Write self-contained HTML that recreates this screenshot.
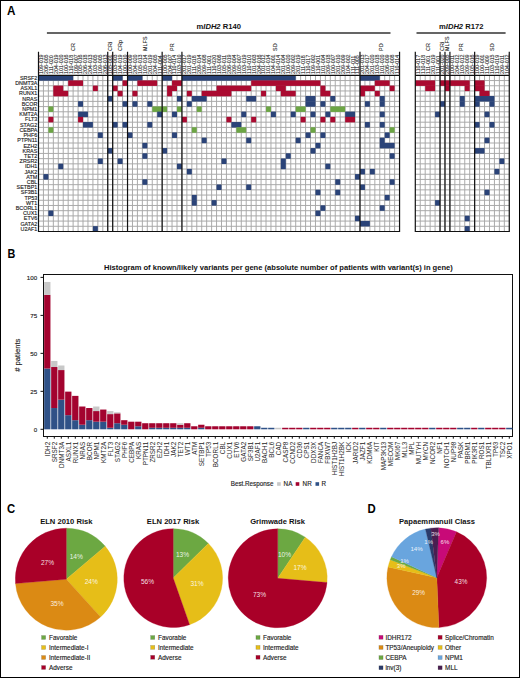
<!DOCTYPE html>
<html><head><meta charset="utf-8"><title>Figure</title>
<style>html,body{margin:0;padding:0;background:#fff;}svg{display:block;}
text{font-family:"Liberation Sans", sans-serif;}</style></head>
<body><svg width="520" height="678" viewBox="0 0 520 678" font-family='"Liberation Sans", sans-serif'>
<rect x="0.5" y="0.5" width="519" height="677" fill="#fff" stroke="#000" stroke-width="1"/>
<text transform="translate(7.00 14.80) scale(0.93 1)" font-size="12.6" font-weight="bold" fill="#000">A</text>
<text transform="translate(7.60 257.90) scale(0.86 1)" font-size="12.6" font-weight="bold" fill="#000">B</text>
<text transform="translate(7.00 512.90) scale(0.90 1)" font-size="12.6" font-weight="bold" fill="#000">C</text>
<text transform="translate(367.60 512.90) scale(0.90 1)" font-size="12.6" font-weight="bold" fill="#000">D</text>
<text x="218.7" y="28.6" font-size="7.6" font-weight="bold" text-anchor="middle" fill="#111">m<tspan font-style="italic">IDH2</tspan> R140</text>
<text x="461.2" y="28.6" font-size="7.6" font-weight="bold" text-anchor="middle" fill="#111">m<tspan font-style="italic">IDH2</tspan> R172</text>
<path d="M46.9 33H390.5 M416.5 33H505.6" stroke="#333" stroke-width="1.3"/>
<path d="M43.45 75.35V231.50M48.39 75.35V231.50M53.34 75.35V231.50M58.28 75.35V231.50M63.23 75.35V231.50M68.18 75.35V231.50M73.12 75.35V231.50M78.07 75.35V231.50M83.01 75.35V231.50M87.96 75.35V231.50M92.91 75.35V231.50M97.85 75.35V231.50M102.80 75.35V231.50M107.74 75.35V231.50M112.69 75.35V231.50M117.64 75.35V231.50M122.58 75.35V231.50M127.53 75.35V231.50M132.47 75.35V231.50M137.42 75.35V231.50M142.37 75.35V231.50M147.31 75.35V231.50M152.26 75.35V231.50M157.20 75.35V231.50M162.15 75.35V231.50M167.10 75.35V231.50M172.04 75.35V231.50M176.99 75.35V231.50M181.93 75.35V231.50M186.88 75.35V231.50M191.83 75.35V231.50M196.77 75.35V231.50M201.72 75.35V231.50M206.66 75.35V231.50M211.61 75.35V231.50M216.56 75.35V231.50M221.50 75.35V231.50M226.45 75.35V231.50M231.39 75.35V231.50M236.34 75.35V231.50M241.29 75.35V231.50M246.23 75.35V231.50M251.18 75.35V231.50M256.12 75.35V231.50M261.07 75.35V231.50M266.02 75.35V231.50M270.96 75.35V231.50M275.91 75.35V231.50M280.85 75.35V231.50M285.80 75.35V231.50M290.75 75.35V231.50M295.69 75.35V231.50M300.64 75.35V231.50M305.58 75.35V231.50M310.53 75.35V231.50M315.48 75.35V231.50M320.42 75.35V231.50M325.37 75.35V231.50M330.31 75.35V231.50M335.26 75.35V231.50M340.21 75.35V231.50M345.15 75.35V231.50M350.10 75.35V231.50M355.04 75.35V231.50M359.99 75.35V231.50M364.94 75.35V231.50M369.88 75.35V231.50M374.83 75.35V231.50M379.77 75.35V231.50M384.72 75.35V231.50M389.67 75.35V231.50M394.61 75.35V231.50M38.50 80.55H399.56M38.50 85.76H399.56M38.50 90.96H399.56M38.50 96.17H399.56M38.50 101.38H399.56M38.50 106.58H399.56M38.50 111.78H399.56M38.50 116.99H399.56M38.50 122.19H399.56M38.50 127.40H399.56M38.50 132.60H399.56M38.50 137.81H399.56M38.50 143.01H399.56M38.50 148.22H399.56M38.50 153.43H399.56M38.50 158.63H399.56M38.50 163.83H399.56M38.50 169.04H399.56M38.50 174.25H399.56M38.50 179.45H399.56M38.50 184.66H399.56M38.50 189.86H399.56M38.50 195.06H399.56M38.50 200.27H399.56M38.50 205.47H399.56M38.50 210.68H399.56M38.50 215.88H399.56M38.50 221.09H399.56M38.50 226.29H399.56" stroke="#a6a6a6" stroke-width="0.95" fill="none"/>
<rect x="38.50" y="75.20" width="34.62" height="5.50" fill="#2a4378"/>
<rect x="112.69" y="75.20" width="9.89" height="5.50" fill="#2a4378"/>
<rect x="127.53" y="75.20" width="14.84" height="5.50" fill="#2a4378"/>
<rect x="162.15" y="75.20" width="9.89" height="5.50" fill="#2a4378"/>
<rect x="181.93" y="75.20" width="113.76" height="5.50" fill="#2a4378"/>
<rect x="359.99" y="75.20" width="19.78" height="5.50" fill="#2a4378"/>
<rect x="68.18" y="80.40" width="14.84" height="5.50" fill="#aa0a30"/>
<rect x="122.58" y="80.40" width="4.95" height="5.50" fill="#aa0a30"/>
<rect x="137.42" y="80.40" width="19.78" height="5.50" fill="#aa0a30"/>
<rect x="172.04" y="80.40" width="9.89" height="5.50" fill="#aa0a30"/>
<rect x="251.18" y="80.40" width="69.24" height="5.50" fill="#aa0a30"/>
<rect x="374.83" y="80.40" width="14.84" height="5.50" fill="#aa0a30"/>
<rect x="53.34" y="85.61" width="9.89" height="5.50" fill="#aa0a30"/>
<rect x="92.91" y="85.61" width="4.95" height="5.50" fill="#aa0a30"/>
<rect x="112.69" y="85.61" width="4.95" height="5.50" fill="#aa0a30"/>
<rect x="167.10" y="85.61" width="9.89" height="5.50" fill="#aa0a30"/>
<rect x="216.56" y="85.61" width="34.62" height="5.50" fill="#aa0a30"/>
<rect x="275.91" y="85.61" width="9.89" height="5.50" fill="#aa0a30"/>
<rect x="320.42" y="85.61" width="4.95" height="5.50" fill="#aa0a30"/>
<rect x="359.99" y="85.61" width="14.84" height="5.50" fill="#aa0a30"/>
<rect x="389.67" y="85.61" width="4.95" height="5.50" fill="#aa0a30"/>
<rect x="53.34" y="90.81" width="14.84" height="5.50" fill="#aa0a30"/>
<rect x="117.64" y="90.81" width="4.95" height="5.50" fill="#aa0a30"/>
<rect x="132.47" y="90.81" width="4.95" height="5.50" fill="#aa0a30"/>
<rect x="167.10" y="90.81" width="4.95" height="5.50" fill="#aa0a30"/>
<rect x="186.88" y="90.81" width="4.95" height="5.50" fill="#aa0a30"/>
<rect x="201.72" y="90.81" width="29.68" height="5.50" fill="#aa0a30"/>
<rect x="261.07" y="90.81" width="4.95" height="5.50" fill="#aa0a30"/>
<rect x="280.85" y="90.81" width="14.84" height="5.50" fill="#aa0a30"/>
<rect x="320.42" y="90.81" width="9.89" height="5.50" fill="#aa0a30"/>
<rect x="359.99" y="90.81" width="4.95" height="5.50" fill="#aa0a30"/>
<rect x="374.83" y="90.81" width="4.95" height="5.50" fill="#aa0a30"/>
<rect x="107.74" y="96.02" width="4.95" height="5.50" fill="#2a4378"/>
<rect x="176.99" y="96.02" width="4.95" height="5.50" fill="#2a4378"/>
<rect x="191.83" y="96.02" width="14.84" height="5.50" fill="#2a4378"/>
<rect x="246.23" y="96.02" width="9.89" height="5.50" fill="#2a4378"/>
<rect x="305.58" y="96.02" width="9.89" height="5.50" fill="#2a4378"/>
<rect x="330.31" y="96.02" width="4.95" height="5.50" fill="#2a4378"/>
<rect x="379.77" y="96.02" width="4.95" height="5.50" fill="#2a4378"/>
<rect x="78.07" y="101.22" width="4.95" height="5.50" fill="#2a4378"/>
<rect x="122.58" y="101.22" width="4.95" height="5.50" fill="#2a4378"/>
<rect x="132.47" y="101.22" width="4.95" height="5.50" fill="#2a4378"/>
<rect x="147.31" y="101.22" width="4.95" height="5.50" fill="#2a4378"/>
<rect x="186.88" y="101.22" width="4.95" height="5.50" fill="#2a4378"/>
<rect x="305.58" y="101.22" width="9.89" height="5.50" fill="#2a4378"/>
<rect x="320.42" y="101.22" width="4.95" height="5.50" fill="#2a4378"/>
<rect x="364.94" y="101.22" width="4.95" height="5.50" fill="#2a4378"/>
<rect x="379.77" y="101.22" width="4.95" height="5.50" fill="#2a4378"/>
<rect x="48.39" y="106.43" width="4.95" height="5.50" fill="#6ca544"/>
<rect x="152.26" y="106.43" width="14.84" height="5.50" fill="#6ca544"/>
<rect x="176.99" y="106.43" width="4.95" height="5.50" fill="#6ca544"/>
<rect x="196.77" y="106.43" width="4.95" height="5.50" fill="#6ca544"/>
<rect x="266.02" y="106.43" width="4.95" height="5.50" fill="#6ca544"/>
<rect x="295.69" y="106.43" width="9.89" height="5.50" fill="#6ca544"/>
<rect x="330.31" y="106.43" width="14.84" height="5.50" fill="#6ca544"/>
<rect x="78.07" y="111.63" width="9.89" height="5.50" fill="#2a4378"/>
<rect x="157.20" y="111.63" width="4.95" height="5.50" fill="#2a4378"/>
<rect x="172.04" y="111.63" width="4.95" height="5.50" fill="#2a4378"/>
<rect x="241.29" y="111.63" width="4.95" height="5.50" fill="#2a4378"/>
<rect x="270.96" y="111.63" width="4.95" height="5.50" fill="#2a4378"/>
<rect x="290.75" y="111.63" width="4.95" height="5.50" fill="#2a4378"/>
<rect x="310.53" y="111.63" width="4.95" height="5.50" fill="#2a4378"/>
<rect x="325.37" y="111.63" width="4.95" height="5.50" fill="#2a4378"/>
<rect x="345.15" y="111.63" width="9.89" height="5.50" fill="#2a4378"/>
<rect x="379.77" y="111.63" width="4.95" height="5.50" fill="#2a4378"/>
<rect x="48.39" y="116.84" width="4.95" height="5.50" fill="#aa0a30"/>
<rect x="78.07" y="116.84" width="4.95" height="5.50" fill="#aa0a30"/>
<rect x="181.93" y="116.84" width="4.95" height="5.50" fill="#aa0a30"/>
<rect x="226.45" y="116.84" width="4.95" height="5.50" fill="#aa0a30"/>
<rect x="251.18" y="116.84" width="4.95" height="5.50" fill="#aa0a30"/>
<rect x="300.64" y="116.84" width="4.95" height="5.50" fill="#aa0a30"/>
<rect x="320.42" y="116.84" width="4.95" height="5.50" fill="#aa0a30"/>
<rect x="330.31" y="116.84" width="4.95" height="5.50" fill="#aa0a30"/>
<rect x="345.15" y="116.84" width="9.89" height="5.50" fill="#aa0a30"/>
<rect x="83.01" y="122.04" width="9.89" height="5.50" fill="#2a4378"/>
<rect x="112.69" y="122.04" width="4.95" height="5.50" fill="#2a4378"/>
<rect x="122.58" y="122.04" width="4.95" height="5.50" fill="#2a4378"/>
<rect x="147.31" y="122.04" width="4.95" height="5.50" fill="#2a4378"/>
<rect x="231.39" y="122.04" width="9.89" height="5.50" fill="#2a4378"/>
<rect x="364.94" y="122.04" width="4.95" height="5.50" fill="#2a4378"/>
<rect x="379.77" y="122.04" width="4.95" height="5.50" fill="#2a4378"/>
<rect x="48.39" y="127.25" width="4.95" height="5.50" fill="#6ca544"/>
<rect x="191.83" y="127.25" width="4.95" height="5.50" fill="#6ca544"/>
<rect x="236.34" y="127.25" width="9.89" height="5.50" fill="#6ca544"/>
<rect x="310.53" y="127.25" width="4.95" height="5.50" fill="#6ca544"/>
<rect x="389.67" y="127.25" width="4.95" height="5.50" fill="#6ca544"/>
<rect x="97.85" y="132.45" width="4.95" height="5.50" fill="#2a4378"/>
<rect x="127.53" y="132.45" width="4.95" height="5.50" fill="#2a4378"/>
<rect x="172.04" y="132.45" width="4.95" height="5.50" fill="#2a4378"/>
<rect x="305.58" y="132.45" width="4.95" height="5.50" fill="#2a4378"/>
<rect x="320.42" y="132.45" width="4.95" height="5.50" fill="#2a4378"/>
<rect x="384.72" y="132.45" width="4.95" height="5.50" fill="#2a4378"/>
<rect x="201.72" y="137.66" width="4.95" height="5.50" fill="#2a4378"/>
<rect x="246.23" y="137.66" width="4.95" height="5.50" fill="#2a4378"/>
<rect x="295.69" y="137.66" width="4.95" height="5.50" fill="#2a4378"/>
<rect x="379.77" y="137.66" width="4.95" height="5.50" fill="#2a4378"/>
<rect x="142.37" y="142.86" width="4.95" height="5.50" fill="#2a4378"/>
<rect x="315.48" y="142.86" width="4.95" height="5.50" fill="#2a4378"/>
<rect x="379.77" y="142.86" width="14.84" height="5.50" fill="#2a4378"/>
<rect x="107.74" y="148.07" width="4.95" height="5.50" fill="#2a4378"/>
<rect x="162.15" y="148.07" width="4.95" height="5.50" fill="#2a4378"/>
<rect x="310.53" y="148.07" width="4.95" height="5.50" fill="#2a4378"/>
<rect x="142.37" y="153.28" width="4.95" height="5.50" fill="#2a4378"/>
<rect x="285.80" y="153.28" width="4.95" height="5.50" fill="#2a4378"/>
<rect x="389.67" y="153.28" width="4.95" height="5.50" fill="#2a4378"/>
<rect x="97.85" y="158.48" width="4.95" height="5.50" fill="#2a4378"/>
<rect x="117.64" y="158.48" width="4.95" height="5.50" fill="#2a4378"/>
<rect x="221.50" y="158.48" width="4.95" height="5.50" fill="#2a4378"/>
<rect x="280.85" y="158.48" width="4.95" height="5.50" fill="#2a4378"/>
<rect x="58.28" y="163.68" width="4.95" height="5.50" fill="#2a4378"/>
<rect x="176.99" y="163.68" width="4.95" height="5.50" fill="#2a4378"/>
<rect x="280.85" y="163.68" width="4.95" height="5.50" fill="#2a4378"/>
<rect x="325.37" y="163.68" width="4.95" height="5.50" fill="#2a4378"/>
<rect x="186.88" y="168.89" width="4.95" height="5.50" fill="#2a4378"/>
<rect x="359.99" y="168.89" width="4.95" height="5.50" fill="#2a4378"/>
<rect x="369.88" y="168.89" width="4.95" height="5.50" fill="#2a4378"/>
<rect x="43.45" y="174.09" width="4.95" height="5.50" fill="#2a4378"/>
<rect x="355.04" y="174.09" width="4.95" height="5.50" fill="#2a4378"/>
<rect x="142.37" y="179.30" width="4.95" height="5.50" fill="#2a4378"/>
<rect x="335.26" y="179.30" width="4.95" height="5.50" fill="#2a4378"/>
<rect x="389.67" y="179.30" width="4.95" height="5.50" fill="#2a4378"/>
<rect x="216.56" y="184.50" width="4.95" height="5.50" fill="#2a4378"/>
<rect x="246.23" y="184.50" width="4.95" height="5.50" fill="#2a4378"/>
<rect x="359.99" y="184.50" width="4.95" height="5.50" fill="#2a4378"/>
<rect x="315.48" y="189.71" width="4.95" height="5.50" fill="#2a4378"/>
<rect x="335.26" y="189.71" width="4.95" height="5.50" fill="#2a4378"/>
<rect x="191.83" y="194.91" width="4.95" height="5.50" fill="#2a4378"/>
<rect x="384.72" y="194.91" width="4.95" height="5.50" fill="#2a4378"/>
<rect x="191.83" y="200.12" width="4.95" height="5.50" fill="#2a4378"/>
<rect x="211.61" y="200.12" width="4.95" height="5.50" fill="#2a4378"/>
<rect x="320.42" y="205.32" width="4.95" height="5.50" fill="#2a4378"/>
<rect x="379.77" y="205.32" width="4.95" height="5.50" fill="#2a4378"/>
<rect x="48.39" y="210.53" width="4.95" height="5.50" fill="#2a4378"/>
<rect x="315.48" y="210.53" width="4.95" height="5.50" fill="#2a4378"/>
<rect x="355.04" y="215.73" width="4.95" height="5.50" fill="#2a4378"/>
<rect x="359.99" y="220.94" width="9.89" height="5.50" fill="#2a4378"/>
<rect x="92.91" y="226.14" width="4.95" height="5.50" fill="#2a4378"/>
<path d="M38.50 75.35H399.56 M38.50 231.50H399.56" stroke="#111" stroke-width="1.1" fill="none"/>
<path d="M38.50 51.80V232.00M107.74 51.80V232.00M112.69 51.80V232.00M127.53 51.80V232.00M162.15 51.80V232.00M181.93 51.80V232.00M359.99 51.80V232.00M399.56 51.80V232.00" stroke="#111" stroke-width="1.2" fill="none"/>
<text transform="translate(42.92 73.9) rotate(-90)" font-size="5.3" fill="#2a2a2a" stroke="#2a2a2a" stroke-width="0.1">109-019</text>
<text transform="translate(47.87 73.9) rotate(-90)" font-size="5.3" fill="#2a2a2a" stroke="#2a2a2a" stroke-width="0.1">206-005</text>
<text transform="translate(52.81 73.9) rotate(-90)" font-size="5.3" fill="#2a2a2a" stroke="#2a2a2a" stroke-width="0.1">111-020</text>
<text transform="translate(57.76 73.9) rotate(-90)" font-size="5.3" fill="#2a2a2a" stroke="#2a2a2a" stroke-width="0.1">204-019</text>
<text transform="translate(62.71 73.9) rotate(-90)" font-size="5.3" fill="#2a2a2a" stroke="#2a2a2a" stroke-width="0.1">101-020</text>
<text transform="translate(67.65 73.9) rotate(-90)" font-size="5.3" fill="#2a2a2a" stroke="#2a2a2a" stroke-width="0.1">100-016</text>
<text transform="translate(72.60 73.9) rotate(-90)" font-size="5.3" fill="#2a2a2a" stroke="#2a2a2a" stroke-width="0.1">110-018</text>
<text transform="translate(77.55 73.9) rotate(-90)" font-size="5.3" fill="#2a2a2a" stroke="#2a2a2a" stroke-width="0.1">109-007</text>
<text transform="translate(82.49 73.9) rotate(-90)" font-size="5.3" fill="#2a2a2a" stroke="#2a2a2a" stroke-width="0.1">105-016</text>
<text transform="translate(87.44 73.9) rotate(-90)" font-size="5.3" fill="#2a2a2a" stroke="#2a2a2a" stroke-width="0.1">206-018</text>
<text transform="translate(92.38 73.9) rotate(-90)" font-size="5.3" fill="#2a2a2a" stroke="#2a2a2a" stroke-width="0.1">204-013</text>
<text transform="translate(97.33 73.9) rotate(-90)" font-size="5.3" fill="#2a2a2a" stroke="#2a2a2a" stroke-width="0.1">103-005</text>
<text transform="translate(102.27 73.9) rotate(-90)" font-size="5.3" fill="#2a2a2a" stroke="#2a2a2a" stroke-width="0.1">109-005</text>
<text transform="translate(107.22 73.9) rotate(-90)" font-size="5.3" fill="#2a2a2a" stroke="#2a2a2a" stroke-width="0.1">206-013</text>
<text transform="translate(112.17 73.9) rotate(-90)" font-size="5.3" fill="#2a2a2a" stroke="#2a2a2a" stroke-width="0.1">105-001</text>
<text transform="translate(117.11 73.9) rotate(-90)" font-size="5.3" fill="#2a2a2a" stroke="#2a2a2a" stroke-width="0.1">103-003</text>
<text transform="translate(122.06 73.9) rotate(-90)" font-size="5.3" fill="#2a2a2a" stroke="#2a2a2a" stroke-width="0.1">104-019</text>
<text transform="translate(127.00 73.9) rotate(-90)" font-size="5.3" fill="#2a2a2a" stroke="#2a2a2a" stroke-width="0.1">100-010</text>
<text transform="translate(131.95 73.9) rotate(-90)" font-size="5.3" fill="#2a2a2a" stroke="#2a2a2a" stroke-width="0.1">100-009</text>
<text transform="translate(136.90 73.9) rotate(-90)" font-size="5.3" fill="#2a2a2a" stroke="#2a2a2a" stroke-width="0.1">204-020</text>
<text transform="translate(141.84 73.9) rotate(-90)" font-size="5.3" fill="#2a2a2a" stroke="#2a2a2a" stroke-width="0.1">105-013</text>
<text transform="translate(146.79 73.9) rotate(-90)" font-size="5.3" fill="#2a2a2a" stroke="#2a2a2a" stroke-width="0.1">105-014</text>
<text transform="translate(151.73 73.9) rotate(-90)" font-size="5.3" fill="#2a2a2a" stroke="#2a2a2a" stroke-width="0.1">201-019</text>
<text transform="translate(156.68 73.9) rotate(-90)" font-size="5.3" fill="#2a2a2a" stroke="#2a2a2a" stroke-width="0.1">204-005</text>
<text transform="translate(161.63 73.9) rotate(-90)" font-size="5.3" fill="#2a2a2a" stroke="#2a2a2a" stroke-width="0.1">111-004</text>
<text transform="translate(166.57 73.9) rotate(-90)" font-size="5.3" fill="#2a2a2a" stroke="#2a2a2a" stroke-width="0.1">100-005</text>
<text transform="translate(171.52 73.9) rotate(-90)" font-size="5.3" fill="#2a2a2a" stroke="#2a2a2a" stroke-width="0.1">204-007</text>
<text transform="translate(176.46 73.9) rotate(-90)" font-size="5.3" fill="#2a2a2a" stroke="#2a2a2a" stroke-width="0.1">110-014</text>
<text transform="translate(181.41 73.9) rotate(-90)" font-size="5.3" fill="#2a2a2a" stroke="#2a2a2a" stroke-width="0.1">103-010</text>
<text transform="translate(186.36 73.9) rotate(-90)" font-size="5.3" fill="#2a2a2a" stroke="#2a2a2a" stroke-width="0.1">201-017</text>
<text transform="translate(191.30 73.9) rotate(-90)" font-size="5.3" fill="#2a2a2a" stroke="#2a2a2a" stroke-width="0.1">201-019</text>
<text transform="translate(196.25 73.9) rotate(-90)" font-size="5.3" fill="#2a2a2a" stroke="#2a2a2a" stroke-width="0.1">111-018</text>
<text transform="translate(201.19 73.9) rotate(-90)" font-size="5.3" fill="#2a2a2a" stroke="#2a2a2a" stroke-width="0.1">209-014</text>
<text transform="translate(206.14 73.9) rotate(-90)" font-size="5.3" fill="#2a2a2a" stroke="#2a2a2a" stroke-width="0.1">209-008</text>
<text transform="translate(211.09 73.9) rotate(-90)" font-size="5.3" fill="#2a2a2a" stroke="#2a2a2a" stroke-width="0.1">111-001</text>
<text transform="translate(216.03 73.9) rotate(-90)" font-size="5.3" fill="#2a2a2a" stroke="#2a2a2a" stroke-width="0.1">110-020</text>
<text transform="translate(220.98 73.9) rotate(-90)" font-size="5.3" fill="#2a2a2a" stroke="#2a2a2a" stroke-width="0.1">103-006</text>
<text transform="translate(225.92 73.9) rotate(-90)" font-size="5.3" fill="#2a2a2a" stroke="#2a2a2a" stroke-width="0.1">105-011</text>
<text transform="translate(230.87 73.9) rotate(-90)" font-size="5.3" fill="#2a2a2a" stroke="#2a2a2a" stroke-width="0.1">206-019</text>
<text transform="translate(235.82 73.9) rotate(-90)" font-size="5.3" fill="#2a2a2a" stroke="#2a2a2a" stroke-width="0.1">209-004</text>
<text transform="translate(240.76 73.9) rotate(-90)" font-size="5.3" fill="#2a2a2a" stroke="#2a2a2a" stroke-width="0.1">105-007</text>
<text transform="translate(245.71 73.9) rotate(-90)" font-size="5.3" fill="#2a2a2a" stroke="#2a2a2a" stroke-width="0.1">103-019</text>
<text transform="translate(250.65 73.9) rotate(-90)" font-size="5.3" fill="#2a2a2a" stroke="#2a2a2a" stroke-width="0.1">110-010</text>
<text transform="translate(255.60 73.9) rotate(-90)" font-size="5.3" fill="#2a2a2a" stroke="#2a2a2a" stroke-width="0.1">101-003</text>
<text transform="translate(260.55 73.9) rotate(-90)" font-size="5.3" fill="#2a2a2a" stroke="#2a2a2a" stroke-width="0.1">204-016</text>
<text transform="translate(265.49 73.9) rotate(-90)" font-size="5.3" fill="#2a2a2a" stroke="#2a2a2a" stroke-width="0.1">101-012</text>
<text transform="translate(270.44 73.9) rotate(-90)" font-size="5.3" fill="#2a2a2a" stroke="#2a2a2a" stroke-width="0.1">101-014</text>
<text transform="translate(275.38 73.9) rotate(-90)" font-size="5.3" fill="#2a2a2a" stroke="#2a2a2a" stroke-width="0.1">104-001</text>
<text transform="translate(280.33 73.9) rotate(-90)" font-size="5.3" fill="#2a2a2a" stroke="#2a2a2a" stroke-width="0.1">110-014</text>
<text transform="translate(285.28 73.9) rotate(-90)" font-size="5.3" fill="#2a2a2a" stroke="#2a2a2a" stroke-width="0.1">201-004</text>
<text transform="translate(290.22 73.9) rotate(-90)" font-size="5.3" fill="#2a2a2a" stroke="#2a2a2a" stroke-width="0.1">100-020</text>
<text transform="translate(295.17 73.9) rotate(-90)" font-size="5.3" fill="#2a2a2a" stroke="#2a2a2a" stroke-width="0.1">209-002</text>
<text transform="translate(300.11 73.9) rotate(-90)" font-size="5.3" fill="#2a2a2a" stroke="#2a2a2a" stroke-width="0.1">201-019</text>
<text transform="translate(305.06 73.9) rotate(-90)" font-size="5.3" fill="#2a2a2a" stroke="#2a2a2a" stroke-width="0.1">111-018</text>
<text transform="translate(310.01 73.9) rotate(-90)" font-size="5.3" fill="#2a2a2a" stroke="#2a2a2a" stroke-width="0.1">110-017</text>
<text transform="translate(314.95 73.9) rotate(-90)" font-size="5.3" fill="#2a2a2a" stroke="#2a2a2a" stroke-width="0.1">109-002</text>
<text transform="translate(319.90 73.9) rotate(-90)" font-size="5.3" fill="#2a2a2a" stroke="#2a2a2a" stroke-width="0.1">110-001</text>
<text transform="translate(324.84 73.9) rotate(-90)" font-size="5.3" fill="#2a2a2a" stroke="#2a2a2a" stroke-width="0.1">101-004</text>
<text transform="translate(329.79 73.9) rotate(-90)" font-size="5.3" fill="#2a2a2a" stroke="#2a2a2a" stroke-width="0.1">209-018</text>
<text transform="translate(334.74 73.9) rotate(-90)" font-size="5.3" fill="#2a2a2a" stroke="#2a2a2a" stroke-width="0.1">100-007</text>
<text transform="translate(339.68 73.9) rotate(-90)" font-size="5.3" fill="#2a2a2a" stroke="#2a2a2a" stroke-width="0.1">201-010</text>
<text transform="translate(344.63 73.9) rotate(-90)" font-size="5.3" fill="#2a2a2a" stroke="#2a2a2a" stroke-width="0.1">209-009</text>
<text transform="translate(349.57 73.9) rotate(-90)" font-size="5.3" fill="#2a2a2a" stroke="#2a2a2a" stroke-width="0.1">104-002</text>
<text transform="translate(354.52 73.9) rotate(-90)" font-size="5.3" fill="#2a2a2a" stroke="#2a2a2a" stroke-width="0.1">111-011</text>
<text transform="translate(359.47 73.9) rotate(-90)" font-size="5.3" fill="#2a2a2a" stroke="#2a2a2a" stroke-width="0.1">111-005</text>
<text transform="translate(364.41 73.9) rotate(-90)" font-size="5.3" fill="#2a2a2a" stroke="#2a2a2a" stroke-width="0.1">201-013</text>
<text transform="translate(369.36 73.9) rotate(-90)" font-size="5.3" fill="#2a2a2a" stroke="#2a2a2a" stroke-width="0.1">204-017</text>
<text transform="translate(374.30 73.9) rotate(-90)" font-size="5.3" fill="#2a2a2a" stroke="#2a2a2a" stroke-width="0.1">201-020</text>
<text transform="translate(379.25 73.9) rotate(-90)" font-size="5.3" fill="#2a2a2a" stroke="#2a2a2a" stroke-width="0.1">103-018</text>
<text transform="translate(384.20 73.9) rotate(-90)" font-size="5.3" fill="#2a2a2a" stroke="#2a2a2a" stroke-width="0.1">101-020</text>
<text transform="translate(389.14 73.9) rotate(-90)" font-size="5.3" fill="#2a2a2a" stroke="#2a2a2a" stroke-width="0.1">206-009</text>
<text transform="translate(394.09 73.9) rotate(-90)" font-size="5.3" fill="#2a2a2a" stroke="#2a2a2a" stroke-width="0.1">201-008</text>
<text transform="translate(399.03 73.9) rotate(-90)" font-size="5.3" fill="#2a2a2a" stroke="#2a2a2a" stroke-width="0.1">110-014</text>
<text transform="translate(74.92 50.9) rotate(-90)" font-size="5.4" fill="#2a2a2a" stroke="#2a2a2a" stroke-width="0.1">CR</text>
<text transform="translate(112.02 50.9) rotate(-90)" font-size="5.4" fill="#2a2a2a" stroke="#2a2a2a" stroke-width="0.1">CRi</text>
<text transform="translate(121.91 50.9) rotate(-90)" font-size="5.4" fill="#2a2a2a" stroke="#2a2a2a" stroke-width="0.1">CRp</text>
<text transform="translate(146.64 50.9) rotate(-90)" font-size="5.4" fill="#2a2a2a" stroke="#2a2a2a" stroke-width="0.1">MLFS</text>
<text transform="translate(173.84 50.9) rotate(-90)" font-size="5.4" fill="#2a2a2a" stroke="#2a2a2a" stroke-width="0.1">PR</text>
<text transform="translate(277.10 50.9) rotate(-90)" font-size="5.4" fill="#2a2a2a" stroke="#2a2a2a" stroke-width="0.1">SD</text>
<text transform="translate(382.80 50.9) rotate(-90)" font-size="5.4" fill="#2a2a2a" stroke="#2a2a2a" stroke-width="0.1">PD</text>
<path d="M420.25 75.35V231.50M425.19 75.35V231.50M430.14 75.35V231.50M435.08 75.35V231.50M440.03 75.35V231.50M444.98 75.35V231.50M449.92 75.35V231.50M454.87 75.35V231.50M459.81 75.35V231.50M464.76 75.35V231.50M469.71 75.35V231.50M474.65 75.35V231.50M479.60 75.35V231.50M484.54 75.35V231.50M489.49 75.35V231.50M494.44 75.35V231.50M499.38 75.35V231.50M504.33 75.35V231.50M415.30 80.55H509.27M415.30 85.76H509.27M415.30 90.96H509.27M415.30 96.17H509.27M415.30 101.38H509.27M415.30 106.58H509.27M415.30 111.78H509.27M415.30 116.99H509.27M415.30 122.19H509.27M415.30 127.40H509.27M415.30 132.60H509.27M415.30 137.81H509.27M415.30 143.01H509.27M415.30 148.22H509.27M415.30 153.43H509.27M415.30 158.63H509.27M415.30 163.83H509.27M415.30 169.04H509.27M415.30 174.25H509.27M415.30 179.45H509.27M415.30 184.66H509.27M415.30 189.86H509.27M415.30 195.06H509.27M415.30 200.27H509.27M415.30 205.47H509.27M415.30 210.68H509.27M415.30 215.88H509.27M415.30 221.09H509.27M415.30 226.29H509.27" stroke="#a6a6a6" stroke-width="0.95" fill="none"/>
<rect x="415.30" y="80.40" width="19.78" height="5.50" fill="#aa0a30"/>
<rect x="440.03" y="80.40" width="29.68" height="5.50" fill="#aa0a30"/>
<rect x="474.65" y="80.40" width="9.89" height="5.50" fill="#aa0a30"/>
<rect x="425.19" y="85.61" width="9.89" height="5.50" fill="#aa0a30"/>
<rect x="444.98" y="85.61" width="4.95" height="5.50" fill="#aa0a30"/>
<rect x="464.76" y="85.61" width="4.95" height="5.50" fill="#aa0a30"/>
<rect x="474.65" y="85.61" width="9.89" height="5.50" fill="#aa0a30"/>
<rect x="479.60" y="90.81" width="9.89" height="5.50" fill="#aa0a30"/>
<rect x="459.81" y="96.02" width="4.95" height="5.50" fill="#2a4378"/>
<rect x="474.65" y="96.02" width="19.78" height="5.50" fill="#2a4378"/>
<rect x="440.03" y="101.22" width="4.95" height="5.50" fill="#2a4378"/>
<rect x="459.81" y="101.22" width="4.95" height="5.50" fill="#2a4378"/>
<rect x="474.65" y="101.22" width="4.95" height="5.50" fill="#2a4378"/>
<rect x="489.49" y="101.22" width="4.95" height="5.50" fill="#2a4378"/>
<rect x="435.08" y="111.63" width="4.95" height="5.50" fill="#2a4378"/>
<rect x="484.54" y="111.63" width="4.95" height="5.50" fill="#2a4378"/>
<rect x="474.65" y="122.04" width="4.95" height="5.50" fill="#2a4378"/>
<rect x="489.49" y="122.04" width="4.95" height="5.50" fill="#2a4378"/>
<rect x="484.54" y="137.66" width="4.95" height="5.50" fill="#2a4378"/>
<rect x="474.65" y="148.07" width="9.89" height="5.50" fill="#2a4378"/>
<rect x="499.38" y="158.48" width="4.95" height="5.50" fill="#2a4378"/>
<rect x="494.44" y="168.89" width="4.95" height="5.50" fill="#2a4378"/>
<rect x="484.54" y="189.71" width="4.95" height="5.50" fill="#2a4378"/>
<rect x="435.08" y="200.12" width="4.95" height="5.50" fill="#2a4378"/>
<rect x="464.76" y="215.73" width="4.95" height="5.50" fill="#2a4378"/>
<rect x="464.76" y="226.14" width="4.95" height="5.50" fill="#2a4378"/>
<path d="M415.30 75.35H509.27 M415.30 231.50H509.27" stroke="#111" stroke-width="1.1" fill="none"/>
<path d="M415.30 51.80V232.00M440.03 51.80V232.00M444.98 51.80V232.00M449.92 51.80V232.00M474.65 51.80V232.00M509.27 51.80V232.00" stroke="#111" stroke-width="1.2" fill="none"/>
<text transform="translate(419.72 73.9) rotate(-90)" font-size="5.3" fill="#2a2a2a" stroke="#2a2a2a" stroke-width="0.1">110-017</text>
<text transform="translate(424.67 73.9) rotate(-90)" font-size="5.3" fill="#2a2a2a" stroke="#2a2a2a" stroke-width="0.1">110-018</text>
<text transform="translate(429.62 73.9) rotate(-90)" font-size="5.3" fill="#2a2a2a" stroke="#2a2a2a" stroke-width="0.1">111-001</text>
<text transform="translate(434.56 73.9) rotate(-90)" font-size="5.3" fill="#2a2a2a" stroke="#2a2a2a" stroke-width="0.1">201-019</text>
<text transform="translate(439.51 73.9) rotate(-90)" font-size="5.3" fill="#2a2a2a" stroke="#2a2a2a" stroke-width="0.1">111-001</text>
<text transform="translate(444.45 73.9) rotate(-90)" font-size="5.3" fill="#2a2a2a" stroke="#2a2a2a" stroke-width="0.1">201-020</text>
<text transform="translate(449.40 73.9) rotate(-90)" font-size="5.3" fill="#2a2a2a" stroke="#2a2a2a" stroke-width="0.1">209-005</text>
<text transform="translate(454.34 73.9) rotate(-90)" font-size="5.3" fill="#2a2a2a" stroke="#2a2a2a" stroke-width="0.1">100-011</text>
<text transform="translate(459.29 73.9) rotate(-90)" font-size="5.3" fill="#2a2a2a" stroke="#2a2a2a" stroke-width="0.1">204-012</text>
<text transform="translate(464.24 73.9) rotate(-90)" font-size="5.3" fill="#2a2a2a" stroke="#2a2a2a" stroke-width="0.1">103-012</text>
<text transform="translate(469.18 73.9) rotate(-90)" font-size="5.3" fill="#2a2a2a" stroke="#2a2a2a" stroke-width="0.1">209-009</text>
<text transform="translate(474.13 73.9) rotate(-90)" font-size="5.3" fill="#2a2a2a" stroke="#2a2a2a" stroke-width="0.1">105-016</text>
<text transform="translate(479.07 73.9) rotate(-90)" font-size="5.3" fill="#2a2a2a" stroke="#2a2a2a" stroke-width="0.1">100-019</text>
<text transform="translate(484.02 73.9) rotate(-90)" font-size="5.3" fill="#2a2a2a" stroke="#2a2a2a" stroke-width="0.1">100-001</text>
<text transform="translate(488.97 73.9) rotate(-90)" font-size="5.3" fill="#2a2a2a" stroke="#2a2a2a" stroke-width="0.1">111-009</text>
<text transform="translate(493.91 73.9) rotate(-90)" font-size="5.3" fill="#2a2a2a" stroke="#2a2a2a" stroke-width="0.1">103-015</text>
<text transform="translate(498.86 73.9) rotate(-90)" font-size="5.3" fill="#2a2a2a" stroke="#2a2a2a" stroke-width="0.1">110-019</text>
<text transform="translate(503.81 73.9) rotate(-90)" font-size="5.3" fill="#2a2a2a" stroke="#2a2a2a" stroke-width="0.1">209-011</text>
<text transform="translate(508.75 73.9) rotate(-90)" font-size="5.3" fill="#2a2a2a" stroke="#2a2a2a" stroke-width="0.1">104-012</text>
<text transform="translate(429.50 50.9) rotate(-90)" font-size="5.4" fill="#2a2a2a" stroke="#2a2a2a" stroke-width="0.1">CR</text>
<text transform="translate(443.50 50.9) rotate(-90)" font-size="5.4" fill="#2a2a2a" stroke="#2a2a2a" stroke-width="0.1">CRi</text>
<text transform="translate(449.30 50.9) rotate(-90)" font-size="5.4" fill="#2a2a2a" stroke="#2a2a2a" stroke-width="0.1">MLFS</text>
<text transform="translate(463.30 50.9) rotate(-90)" font-size="5.4" fill="#2a2a2a" stroke="#2a2a2a" stroke-width="0.1">PR</text>
<text transform="translate(494.10 50.9) rotate(-90)" font-size="5.4" fill="#2a2a2a" stroke="#2a2a2a" stroke-width="0.1">SD</text>
<text x="37.3" y="79.85" font-size="5.4" text-anchor="end" fill="#222" stroke="#222" stroke-width="0.14">SRSF2</text>
<text x="37.3" y="85.06" font-size="5.4" text-anchor="end" fill="#222" stroke="#222" stroke-width="0.14">DNMT3A</text>
<text x="37.3" y="90.26" font-size="5.4" text-anchor="end" fill="#222" stroke="#222" stroke-width="0.14">ASXL1</text>
<text x="37.3" y="95.47" font-size="5.4" text-anchor="end" fill="#222" stroke="#222" stroke-width="0.14">RUNX1</text>
<text x="37.3" y="100.67" font-size="5.4" text-anchor="end" fill="#222" stroke="#222" stroke-width="0.14">NRAS</text>
<text x="37.3" y="105.88" font-size="5.4" text-anchor="end" fill="#222" stroke="#222" stroke-width="0.14">BCOR</text>
<text x="37.3" y="111.08" font-size="5.4" text-anchor="end" fill="#222" stroke="#222" stroke-width="0.14">NPM1</text>
<text x="37.3" y="116.29" font-size="5.4" text-anchor="end" fill="#222" stroke="#222" stroke-width="0.14">KMT2A</text>
<text x="37.3" y="121.49" font-size="5.4" text-anchor="end" fill="#222" stroke="#222" stroke-width="0.14">FLT3</text>
<text x="37.3" y="126.70" font-size="5.4" text-anchor="end" fill="#222" stroke="#222" stroke-width="0.14">STAG2</text>
<text x="37.3" y="131.90" font-size="5.4" text-anchor="end" fill="#222" stroke="#222" stroke-width="0.14">CEBPA</text>
<text x="37.3" y="137.11" font-size="5.4" text-anchor="end" fill="#222" stroke="#222" stroke-width="0.14">PHF6</text>
<text x="37.3" y="142.31" font-size="5.4" text-anchor="end" fill="#222" stroke="#222" stroke-width="0.14">PTPN11</text>
<text x="37.3" y="147.52" font-size="5.4" text-anchor="end" fill="#222" stroke="#222" stroke-width="0.14">EZH2</text>
<text x="37.3" y="152.72" font-size="5.4" text-anchor="end" fill="#222" stroke="#222" stroke-width="0.14">KRAS</text>
<text x="37.3" y="157.93" font-size="5.4" text-anchor="end" fill="#222" stroke="#222" stroke-width="0.14">TET2</text>
<text x="37.3" y="163.13" font-size="5.4" text-anchor="end" fill="#222" stroke="#222" stroke-width="0.14">ZRSR2</text>
<text x="37.3" y="168.34" font-size="5.4" text-anchor="end" fill="#222" stroke="#222" stroke-width="0.14">IDH1</text>
<text x="37.3" y="173.54" font-size="5.4" text-anchor="end" fill="#222" stroke="#222" stroke-width="0.14">JAK2</text>
<text x="37.3" y="178.75" font-size="5.4" text-anchor="end" fill="#222" stroke="#222" stroke-width="0.14">ATM</text>
<text x="37.3" y="183.95" font-size="5.4" text-anchor="end" fill="#222" stroke="#222" stroke-width="0.14">CBL</text>
<text x="37.3" y="189.16" font-size="5.4" text-anchor="end" fill="#222" stroke="#222" stroke-width="0.14">SETBP1</text>
<text x="37.3" y="194.36" font-size="5.4" text-anchor="end" fill="#222" stroke="#222" stroke-width="0.14">SF3B1</text>
<text x="37.3" y="199.57" font-size="5.4" text-anchor="end" fill="#222" stroke="#222" stroke-width="0.14">TP53</text>
<text x="37.3" y="204.77" font-size="5.4" text-anchor="end" fill="#222" stroke="#222" stroke-width="0.14">WT1</text>
<text x="37.3" y="209.98" font-size="5.4" text-anchor="end" fill="#222" stroke="#222" stroke-width="0.14">BCORL1</text>
<text x="37.3" y="215.18" font-size="5.4" text-anchor="end" fill="#222" stroke="#222" stroke-width="0.14">CUX1</text>
<text x="37.3" y="220.39" font-size="5.4" text-anchor="end" fill="#222" stroke="#222" stroke-width="0.14">ETV6</text>
<text x="37.3" y="225.59" font-size="5.4" text-anchor="end" fill="#222" stroke="#222" stroke-width="0.14">GATA2</text>
<text x="37.3" y="230.80" font-size="5.4" text-anchor="end" fill="#222" stroke="#222" stroke-width="0.14">U2AF1</text>
<rect x="43.50" y="274.50" width="469.00" height="162.00" fill="none" stroke="#111" stroke-width="1"/>
<rect x="44.15" y="368.54" width="6.30" height="60.76" fill="#2f5187"/>
<rect x="44.15" y="294.87" width="6.30" height="73.67" fill="#a3032f"/>
<rect x="44.15" y="281.96" width="6.30" height="12.91" fill="#c8c8c8"/>
<path d="M47.30 436.50V438.70" stroke="#111" stroke-width="1"/>
<text transform="translate(49.60 441.80) rotate(-90)" font-size="6.35" text-anchor="end" fill="#262626">IDH2</text>
<rect x="51.15" y="408.03" width="6.30" height="21.27" fill="#2f5187"/>
<rect x="51.15" y="367.02" width="6.30" height="41.01" fill="#a3032f"/>
<rect x="51.15" y="360.94" width="6.30" height="6.08" fill="#c8c8c8"/>
<path d="M54.30 436.50V438.70" stroke="#111" stroke-width="1"/>
<text transform="translate(56.60 441.80) rotate(-90)" font-size="6.35" text-anchor="end" fill="#262626">SRSF2</text>
<rect x="58.15" y="399.68" width="6.30" height="29.62" fill="#2f5187"/>
<rect x="58.15" y="370.06" width="6.30" height="29.62" fill="#a3032f"/>
<rect x="58.15" y="365.50" width="6.30" height="4.56" fill="#c8c8c8"/>
<path d="M61.30 436.50V438.70" stroke="#111" stroke-width="1"/>
<text transform="translate(63.60 441.80) rotate(-90)" font-size="6.35" text-anchor="end" fill="#262626">DNMT3A</text>
<rect x="65.15" y="415.17" width="6.30" height="14.13" fill="#2f5187"/>
<rect x="65.15" y="391.63" width="6.30" height="23.54" fill="#a3032f"/>
<path d="M68.30 436.50V438.70" stroke="#111" stroke-width="1"/>
<text transform="translate(70.60 441.80) rotate(-90)" font-size="6.35" text-anchor="end" fill="#262626">ASXL1</text>
<rect x="72.15" y="420.19" width="6.30" height="9.11" fill="#2f5187"/>
<rect x="72.15" y="395.88" width="6.30" height="24.30" fill="#a3032f"/>
<path d="M75.30 436.50V438.70" stroke="#111" stroke-width="1"/>
<text transform="translate(77.60 441.80) rotate(-90)" font-size="6.35" text-anchor="end" fill="#262626">RUNX1</text>
<rect x="79.15" y="424.74" width="6.30" height="4.56" fill="#2f5187"/>
<rect x="79.15" y="406.51" width="6.30" height="18.23" fill="#a3032f"/>
<path d="M82.30 436.50V438.70" stroke="#111" stroke-width="1"/>
<text transform="translate(84.60 441.80) rotate(-90)" font-size="6.35" text-anchor="end" fill="#262626">NRAS</text>
<rect x="86.15" y="420.19" width="6.30" height="9.11" fill="#2f5187"/>
<rect x="86.15" y="408.03" width="6.30" height="12.15" fill="#a3032f"/>
<path d="M89.30 436.50V438.70" stroke="#111" stroke-width="1"/>
<text transform="translate(91.60 441.80) rotate(-90)" font-size="6.35" text-anchor="end" fill="#262626">BCOR</text>
<rect x="93.15" y="421.70" width="6.30" height="7.59" fill="#2f5187"/>
<rect x="93.15" y="411.07" width="6.30" height="10.63" fill="#a3032f"/>
<rect x="93.15" y="406.51" width="6.30" height="4.56" fill="#c8c8c8"/>
<path d="M96.30 436.50V438.70" stroke="#111" stroke-width="1"/>
<text transform="translate(98.60 441.80) rotate(-90)" font-size="6.35" text-anchor="end" fill="#262626">NPM1</text>
<rect x="100.15" y="421.70" width="6.30" height="7.59" fill="#2f5187"/>
<rect x="100.15" y="409.55" width="6.30" height="12.15" fill="#a3032f"/>
<path d="M103.30 436.50V438.70" stroke="#111" stroke-width="1"/>
<text transform="translate(105.60 441.80) rotate(-90)" font-size="6.35" text-anchor="end" fill="#262626">KMT2A</text>
<rect x="107.15" y="427.78" width="6.30" height="1.52" fill="#2f5187"/>
<rect x="107.15" y="414.11" width="6.30" height="13.67" fill="#a3032f"/>
<rect x="107.15" y="411.07" width="6.30" height="3.04" fill="#c8c8c8"/>
<path d="M110.30 436.50V438.70" stroke="#111" stroke-width="1"/>
<text transform="translate(112.60 441.80) rotate(-90)" font-size="6.35" text-anchor="end" fill="#262626">FLT3</text>
<rect x="114.15" y="423.22" width="6.30" height="6.08" fill="#2f5187"/>
<rect x="114.15" y="413.35" width="6.30" height="9.87" fill="#a3032f"/>
<rect x="114.15" y="412.29" width="6.30" height="1.06" fill="#c8c8c8"/>
<path d="M117.30 436.50V438.70" stroke="#111" stroke-width="1"/>
<text transform="translate(119.60 441.80) rotate(-90)" font-size="6.35" text-anchor="end" fill="#262626">STAG2</text>
<rect x="121.15" y="424.74" width="6.30" height="4.56" fill="#2f5187"/>
<rect x="121.15" y="420.19" width="6.30" height="4.56" fill="#a3032f"/>
<path d="M124.30 436.50V438.70" stroke="#111" stroke-width="1"/>
<text transform="translate(126.60 441.80) rotate(-90)" font-size="6.35" text-anchor="end" fill="#262626">PHF6</text>
<rect x="128.15" y="421.70" width="6.30" height="7.59" fill="#a3032f"/>
<path d="M131.30 436.50V438.70" stroke="#111" stroke-width="1"/>
<text transform="translate(133.60 441.80) rotate(-90)" font-size="6.35" text-anchor="end" fill="#262626">CEBPA</text>
<rect x="135.15" y="426.26" width="6.30" height="3.04" fill="#2f5187"/>
<rect x="135.15" y="421.70" width="6.30" height="4.56" fill="#a3032f"/>
<path d="M138.30 436.50V438.70" stroke="#111" stroke-width="1"/>
<text transform="translate(140.60 441.80) rotate(-90)" font-size="6.35" text-anchor="end" fill="#262626">KRAS</text>
<rect x="142.15" y="423.22" width="6.30" height="6.08" fill="#a3032f"/>
<path d="M145.30 436.50V438.70" stroke="#111" stroke-width="1"/>
<text transform="translate(147.60 441.80) rotate(-90)" font-size="6.35" text-anchor="end" fill="#262626">PTPN11</text>
<rect x="149.15" y="427.78" width="6.30" height="1.52" fill="#2f5187"/>
<rect x="149.15" y="423.22" width="6.30" height="4.56" fill="#a3032f"/>
<path d="M152.30 436.50V438.70" stroke="#111" stroke-width="1"/>
<text transform="translate(154.60 441.80) rotate(-90)" font-size="6.35" text-anchor="end" fill="#262626">ZRSR2</text>
<rect x="156.15" y="427.78" width="6.30" height="1.52" fill="#2f5187"/>
<rect x="156.15" y="423.22" width="6.30" height="4.56" fill="#a3032f"/>
<path d="M159.30 436.50V438.70" stroke="#111" stroke-width="1"/>
<text transform="translate(161.60 441.80) rotate(-90)" font-size="6.35" text-anchor="end" fill="#262626">EZH2</text>
<rect x="163.15" y="427.78" width="6.30" height="1.52" fill="#2f5187"/>
<rect x="163.15" y="423.22" width="6.30" height="4.56" fill="#a3032f"/>
<path d="M166.30 436.50V438.70" stroke="#111" stroke-width="1"/>
<text transform="translate(168.60 441.80) rotate(-90)" font-size="6.35" text-anchor="end" fill="#262626">IDH1</text>
<rect x="170.15" y="427.78" width="6.30" height="1.52" fill="#2f5187"/>
<rect x="170.15" y="423.22" width="6.30" height="4.56" fill="#a3032f"/>
<path d="M173.30 436.50V438.70" stroke="#111" stroke-width="1"/>
<text transform="translate(175.60 441.80) rotate(-90)" font-size="6.35" text-anchor="end" fill="#262626">JAK2</text>
<rect x="177.15" y="427.78" width="6.30" height="1.52" fill="#2f5187"/>
<rect x="177.15" y="424.74" width="6.30" height="3.04" fill="#a3032f"/>
<rect x="177.15" y="423.22" width="6.30" height="1.52" fill="#c8c8c8"/>
<path d="M180.30 436.50V438.70" stroke="#111" stroke-width="1"/>
<text transform="translate(182.60 441.80) rotate(-90)" font-size="6.35" text-anchor="end" fill="#262626">TET2</text>
<rect x="184.15" y="427.78" width="6.30" height="1.52" fill="#2f5187"/>
<rect x="184.15" y="423.22" width="6.30" height="4.56" fill="#a3032f"/>
<path d="M187.30 436.50V438.70" stroke="#111" stroke-width="1"/>
<text transform="translate(189.60 441.80) rotate(-90)" font-size="6.35" text-anchor="end" fill="#262626">WT1</text>
<rect x="191.15" y="426.26" width="6.30" height="3.04" fill="#a3032f"/>
<path d="M194.30 436.50V438.70" stroke="#111" stroke-width="1"/>
<text transform="translate(196.60 441.80) rotate(-90)" font-size="6.35" text-anchor="end" fill="#262626">ATM</text>
<rect x="198.15" y="427.78" width="6.30" height="1.52" fill="#2f5187"/>
<rect x="198.15" y="424.74" width="6.30" height="3.04" fill="#a3032f"/>
<path d="M201.30 436.50V438.70" stroke="#111" stroke-width="1"/>
<text transform="translate(203.60 441.80) rotate(-90)" font-size="6.35" text-anchor="end" fill="#262626">SETBP1</text>
<rect x="205.15" y="426.26" width="6.30" height="3.04" fill="#a3032f"/>
<path d="M208.30 436.50V438.70" stroke="#111" stroke-width="1"/>
<text transform="translate(210.60 441.80) rotate(-90)" font-size="6.35" text-anchor="end" fill="#262626">TP53</text>
<rect x="212.15" y="426.26" width="6.30" height="3.04" fill="#a3032f"/>
<path d="M215.30 436.50V438.70" stroke="#111" stroke-width="1"/>
<text transform="translate(217.60 441.80) rotate(-90)" font-size="6.35" text-anchor="end" fill="#262626">BCORL1</text>
<rect x="219.15" y="426.26" width="6.30" height="3.04" fill="#a3032f"/>
<path d="M222.30 436.50V438.70" stroke="#111" stroke-width="1"/>
<text transform="translate(224.60 441.80) rotate(-90)" font-size="6.35" text-anchor="end" fill="#262626">CBL</text>
<rect x="226.15" y="426.26" width="6.30" height="3.04" fill="#a3032f"/>
<path d="M229.30 436.50V438.70" stroke="#111" stroke-width="1"/>
<text transform="translate(231.60 441.80) rotate(-90)" font-size="6.35" text-anchor="end" fill="#262626">CUX1</text>
<rect x="233.15" y="426.26" width="6.30" height="3.04" fill="#a3032f"/>
<path d="M236.30 436.50V438.70" stroke="#111" stroke-width="1"/>
<text transform="translate(238.60 441.80) rotate(-90)" font-size="6.35" text-anchor="end" fill="#262626">ETV6</text>
<rect x="240.15" y="426.26" width="6.30" height="3.04" fill="#a3032f"/>
<path d="M243.30 436.50V438.70" stroke="#111" stroke-width="1"/>
<text transform="translate(245.60 441.80) rotate(-90)" font-size="6.35" text-anchor="end" fill="#262626">GATA2</text>
<rect x="247.15" y="426.26" width="6.30" height="3.04" fill="#a3032f"/>
<path d="M250.30 436.50V438.70" stroke="#111" stroke-width="1"/>
<text transform="translate(252.60 441.80) rotate(-90)" font-size="6.35" text-anchor="end" fill="#262626">SF3B1</text>
<rect x="254.15" y="426.26" width="6.30" height="3.04" fill="#2f5187"/>
<path d="M257.30 436.50V438.70" stroke="#111" stroke-width="1"/>
<text transform="translate(259.60 441.80) rotate(-90)" font-size="6.35" text-anchor="end" fill="#262626">U2AF1</text>
<rect x="261.15" y="427.78" width="6.30" height="1.52" fill="#2f5187"/>
<path d="M264.30 436.50V438.70" stroke="#111" stroke-width="1"/>
<text transform="translate(266.60 441.80) rotate(-90)" font-size="6.35" text-anchor="end" fill="#262626">BACH1</text>
<rect x="268.15" y="427.78" width="6.30" height="1.52" fill="#2f5187"/>
<path d="M271.30 436.50V438.70" stroke="#111" stroke-width="1"/>
<text transform="translate(273.60 441.80) rotate(-90)" font-size="6.35" text-anchor="end" fill="#262626">BCL6</text>
<rect x="275.15" y="427.78" width="6.30" height="1.52" fill="#c8c8c8"/>
<path d="M278.30 436.50V438.70" stroke="#111" stroke-width="1"/>
<text transform="translate(280.60 441.80) rotate(-90)" font-size="6.35" text-anchor="end" fill="#262626">CAD</text>
<rect x="282.15" y="427.78" width="6.30" height="1.52" fill="#a3032f"/>
<path d="M285.30 436.50V438.70" stroke="#111" stroke-width="1"/>
<text transform="translate(287.60 441.80) rotate(-90)" font-size="6.35" text-anchor="end" fill="#262626">CASP8</text>
<rect x="289.15" y="427.78" width="6.30" height="1.52" fill="#a3032f"/>
<path d="M292.30 436.50V438.70" stroke="#111" stroke-width="1"/>
<text transform="translate(294.60 441.80) rotate(-90)" font-size="6.35" text-anchor="end" fill="#262626">CCND2</text>
<rect x="296.15" y="427.78" width="6.30" height="1.52" fill="#a3032f"/>
<path d="M299.30 436.50V438.70" stroke="#111" stroke-width="1"/>
<text transform="translate(301.60 441.80) rotate(-90)" font-size="6.35" text-anchor="end" fill="#262626">CD36</text>
<rect x="303.15" y="427.78" width="6.30" height="1.52" fill="#2f5187"/>
<path d="M306.30 436.50V438.70" stroke="#111" stroke-width="1"/>
<text transform="translate(308.60 441.80) rotate(-90)" font-size="6.35" text-anchor="end" fill="#262626">CPS1</text>
<rect x="310.15" y="427.78" width="6.30" height="1.52" fill="#a3032f"/>
<path d="M313.30 436.50V438.70" stroke="#111" stroke-width="1"/>
<text transform="translate(315.60 441.80) rotate(-90)" font-size="6.35" text-anchor="end" fill="#262626">DDX3X</text>
<rect x="317.15" y="427.78" width="6.30" height="1.52" fill="#a3032f"/>
<path d="M320.30 436.50V438.70" stroke="#111" stroke-width="1"/>
<text transform="translate(322.60 441.80) rotate(-90)" font-size="6.35" text-anchor="end" fill="#262626">FANCA</text>
<rect x="324.15" y="427.78" width="6.30" height="1.52" fill="#a3032f"/>
<path d="M327.30 436.50V438.70" stroke="#111" stroke-width="1"/>
<text transform="translate(329.60 441.80) rotate(-90)" font-size="6.35" text-anchor="end" fill="#262626">FBXW7</text>
<rect x="331.15" y="427.78" width="6.30" height="1.52" fill="#2f5187"/>
<path d="M334.30 436.50V438.70" stroke="#111" stroke-width="1"/>
<text transform="translate(336.60 441.80) rotate(-90)" font-size="6.35" text-anchor="end" fill="#262626">HIST1H2BJ</text>
<rect x="338.15" y="427.78" width="6.30" height="1.52" fill="#2f5187"/>
<path d="M341.30 436.50V438.70" stroke="#111" stroke-width="1"/>
<text transform="translate(343.60 441.80) rotate(-90)" font-size="6.35" text-anchor="end" fill="#262626">HIST1H2BK</text>
<rect x="345.15" y="427.78" width="6.30" height="1.52" fill="#2f5187"/>
<path d="M348.30 436.50V438.70" stroke="#111" stroke-width="1"/>
<text transform="translate(350.60 441.80) rotate(-90)" font-size="6.35" text-anchor="end" fill="#262626">ICK</text>
<rect x="352.15" y="427.78" width="6.30" height="1.52" fill="#a3032f"/>
<path d="M355.30 436.50V438.70" stroke="#111" stroke-width="1"/>
<text transform="translate(357.60 441.80) rotate(-90)" font-size="6.35" text-anchor="end" fill="#262626">JARID2</text>
<rect x="359.15" y="427.78" width="6.30" height="1.52" fill="#2f5187"/>
<path d="M362.30 436.50V438.70" stroke="#111" stroke-width="1"/>
<text transform="translate(364.60 441.80) rotate(-90)" font-size="6.35" text-anchor="end" fill="#262626">JAZF1</text>
<rect x="366.15" y="427.78" width="6.30" height="1.52" fill="#a3032f"/>
<path d="M369.30 436.50V438.70" stroke="#111" stroke-width="1"/>
<text transform="translate(371.60 441.80) rotate(-90)" font-size="6.35" text-anchor="end" fill="#262626">KDM6A</text>
<rect x="373.15" y="427.78" width="6.30" height="1.52" fill="#a3032f"/>
<path d="M376.30 436.50V438.70" stroke="#111" stroke-width="1"/>
<text transform="translate(378.60 441.80) rotate(-90)" font-size="6.35" text-anchor="end" fill="#262626">KIT</text>
<rect x="380.15" y="427.78" width="6.30" height="1.52" fill="#2f5187"/>
<path d="M383.30 436.50V438.70" stroke="#111" stroke-width="1"/>
<text transform="translate(385.60 441.80) rotate(-90)" font-size="6.35" text-anchor="end" fill="#262626">MAP3K13</text>
<rect x="387.15" y="427.78" width="6.30" height="1.52" fill="#a3032f"/>
<path d="M390.30 436.50V438.70" stroke="#111" stroke-width="1"/>
<text transform="translate(392.60 441.80) rotate(-90)" font-size="6.35" text-anchor="end" fill="#262626">MECOM</text>
<rect x="394.15" y="427.78" width="6.30" height="1.52" fill="#a3032f"/>
<path d="M397.30 436.50V438.70" stroke="#111" stroke-width="1"/>
<text transform="translate(399.60 441.80) rotate(-90)" font-size="6.35" text-anchor="end" fill="#262626">MKI67</text>
<rect x="401.15" y="427.78" width="6.30" height="1.52" fill="#a3032f"/>
<path d="M404.30 436.50V438.70" stroke="#111" stroke-width="1"/>
<text transform="translate(406.60 441.80) rotate(-90)" font-size="6.35" text-anchor="end" fill="#262626">MLL3</text>
<rect x="408.15" y="427.78" width="6.30" height="1.52" fill="#a3032f"/>
<path d="M411.30 436.50V438.70" stroke="#111" stroke-width="1"/>
<text transform="translate(413.60 441.80) rotate(-90)" font-size="6.35" text-anchor="end" fill="#262626">MPL</text>
<rect x="415.15" y="427.78" width="6.30" height="1.52" fill="#a3032f"/>
<path d="M418.30 436.50V438.70" stroke="#111" stroke-width="1"/>
<text transform="translate(420.60 441.80) rotate(-90)" font-size="6.35" text-anchor="end" fill="#262626">MUTYH</text>
<rect x="422.15" y="427.78" width="6.30" height="1.52" fill="#a3032f"/>
<path d="M425.30 436.50V438.70" stroke="#111" stroke-width="1"/>
<text transform="translate(427.60 441.80) rotate(-90)" font-size="6.35" text-anchor="end" fill="#262626">MYCN</text>
<rect x="429.15" y="427.78" width="6.30" height="1.52" fill="#2f5187"/>
<path d="M432.30 436.50V438.70" stroke="#111" stroke-width="1"/>
<text transform="translate(434.60 441.80) rotate(-90)" font-size="6.35" text-anchor="end" fill="#262626">NCOR2</text>
<rect x="436.15" y="427.78" width="6.30" height="1.52" fill="#a3032f"/>
<path d="M439.30 436.50V438.70" stroke="#111" stroke-width="1"/>
<text transform="translate(441.60 441.80) rotate(-90)" font-size="6.35" text-anchor="end" fill="#262626">NF1</text>
<rect x="443.15" y="427.78" width="6.30" height="1.52" fill="#a3032f"/>
<path d="M446.30 436.50V438.70" stroke="#111" stroke-width="1"/>
<text transform="translate(448.60 441.80) rotate(-90)" font-size="6.35" text-anchor="end" fill="#262626">NOTCH1</text>
<rect x="450.15" y="427.78" width="6.30" height="1.52" fill="#a3032f"/>
<path d="M453.30 436.50V438.70" stroke="#111" stroke-width="1"/>
<text transform="translate(455.60 441.80) rotate(-90)" font-size="6.35" text-anchor="end" fill="#262626">NUP98</text>
<rect x="457.15" y="427.78" width="6.30" height="1.52" fill="#2f5187"/>
<path d="M460.30 436.50V438.70" stroke="#111" stroke-width="1"/>
<text transform="translate(462.60 441.80) rotate(-90)" font-size="6.35" text-anchor="end" fill="#262626">PASK</text>
<rect x="464.15" y="427.78" width="6.30" height="1.52" fill="#2f5187"/>
<path d="M467.30 436.50V438.70" stroke="#111" stroke-width="1"/>
<text transform="translate(469.60 441.80) rotate(-90)" font-size="6.35" text-anchor="end" fill="#262626">PBRM1</text>
<rect x="471.15" y="427.78" width="6.30" height="1.52" fill="#a3032f"/>
<path d="M474.30 436.50V438.70" stroke="#111" stroke-width="1"/>
<text transform="translate(476.60 441.80) rotate(-90)" font-size="6.35" text-anchor="end" fill="#262626">PIK3R1</text>
<rect x="478.15" y="427.78" width="6.30" height="1.52" fill="#2f5187"/>
<path d="M481.30 436.50V438.70" stroke="#111" stroke-width="1"/>
<text transform="translate(483.60 441.80) rotate(-90)" font-size="6.35" text-anchor="end" fill="#262626">ROS1</text>
<rect x="485.15" y="427.78" width="6.30" height="1.52" fill="#a3032f"/>
<path d="M488.30 436.50V438.70" stroke="#111" stroke-width="1"/>
<text transform="translate(490.60 441.80) rotate(-90)" font-size="6.35" text-anchor="end" fill="#262626">TBL1XR1</text>
<rect x="492.15" y="427.78" width="6.30" height="1.52" fill="#a3032f"/>
<path d="M495.30 436.50V438.70" stroke="#111" stroke-width="1"/>
<text transform="translate(497.60 441.80) rotate(-90)" font-size="6.35" text-anchor="end" fill="#262626">TP63</text>
<rect x="499.15" y="427.78" width="6.30" height="1.52" fill="#a3032f"/>
<path d="M502.30 436.50V438.70" stroke="#111" stroke-width="1"/>
<text transform="translate(504.60 441.80) rotate(-90)" font-size="6.35" text-anchor="end" fill="#262626">TSC2</text>
<rect x="506.15" y="427.78" width="6.30" height="1.52" fill="#2f5187"/>
<path d="M509.30 436.50V438.70" stroke="#111" stroke-width="1"/>
<text transform="translate(511.60 441.80) rotate(-90)" font-size="6.35" text-anchor="end" fill="#262626">XPO1</text>
<path d="M40.50 429.30H43.50" stroke="#111" stroke-width="1"/>
<text x="37.2" y="431.50" font-size="6.2" text-anchor="end" fill="#222" stroke="#222" stroke-width="0.14">0</text>
<path d="M40.50 391.33H43.50" stroke="#111" stroke-width="1"/>
<text x="37.2" y="393.53" font-size="6.2" text-anchor="end" fill="#222" stroke="#222" stroke-width="0.14">25</text>
<path d="M40.50 353.35H43.50" stroke="#111" stroke-width="1"/>
<text x="37.2" y="355.55" font-size="6.2" text-anchor="end" fill="#222" stroke="#222" stroke-width="0.14">50</text>
<path d="M40.50 315.38H43.50" stroke="#111" stroke-width="1"/>
<text x="37.2" y="317.57" font-size="6.2" text-anchor="end" fill="#222" stroke="#222" stroke-width="0.14">75</text>
<path d="M40.50 277.40H43.50" stroke="#111" stroke-width="1"/>
<text x="37.2" y="279.60" font-size="6.2" text-anchor="end" fill="#222" stroke="#222" stroke-width="0.14">100</text>
<text transform="translate(19.5 355.2) rotate(-90)" font-size="7.7" text-anchor="middle" fill="#222" stroke="#222" stroke-width="0.14"># patients</text>
<text x="278.4" y="270" font-size="7.57" font-weight="bold" text-anchor="middle" fill="#111">Histogram of known/likely variants per gene (absolute number of patients with variant(s) in gene)</text>
<text x="230.7" y="486.3" font-size="6.3" fill="#222" stroke="#222" stroke-width="0.14">Best.Response</text>
<rect x="277.1" y="482.2" width="3.6" height="3.6" fill="#c8c8c8"/>
<text x="283.6" y="486.3" font-size="6.3" fill="#222" stroke="#222" stroke-width="0.14">NA</text>
<rect x="295.7" y="482.2" width="3.6" height="3.6" fill="#a3032f"/>
<text x="302.6" y="486.3" font-size="6.3" fill="#222" stroke="#222" stroke-width="0.14">NR</text>
<rect x="315.5" y="482.2" width="3.6" height="3.6" fill="#2f5187"/>
<text x="321.6" y="486.3" font-size="6.3" fill="#222" stroke="#222" stroke-width="0.14">R</text>
<text x="66.30" y="524.30" font-size="7.6" font-weight="bold" text-anchor="middle" fill="#111">ELN 2010 Risk</text>
<path d="M66.30 579.20L66.30 528.20A51.00 51.00 0 0 1 105.25 546.28Z" fill="#6ca842" stroke="#6ca842" stroke-width="0.3"/>
<path d="M66.30 579.20L105.25 546.28A51.00 51.00 0 0 1 100.56 616.98Z" fill="#e6be18" stroke="#e6be18" stroke-width="0.3"/>
<path d="M66.30 579.20L100.56 616.98A51.00 51.00 0 0 1 15.49 583.56Z" fill="#db8a14" stroke="#db8a14" stroke-width="0.3"/>
<path d="M66.30 579.20L15.49 583.56A51.00 51.00 0 0 1 66.30 528.20Z" fill="#a90028" stroke="#a90028" stroke-width="0.3"/>
<text x="76.30" y="558.80" font-size="6.6" text-anchor="middle" fill="#fff" fill-opacity="0.88">14%</text>
<text x="91.30" y="583.80" font-size="6.6" text-anchor="middle" fill="#fff" fill-opacity="0.88">24%</text>
<text x="57.00" y="606.10" font-size="6.6" text-anchor="middle" fill="#fff" fill-opacity="0.88">35%</text>
<text x="47.50" y="564.80" font-size="6.6" text-anchor="middle" fill="#fff" fill-opacity="0.88">27%</text>
<rect x="41.55" y="635.55" width="4.1" height="3.9" fill="#6ca842" stroke="#333" stroke-opacity="0.35" stroke-width="0.5"/>
<text x="49.00" y="639.80" font-size="6.4" fill="#222" stroke="#222" stroke-width="0.14">Favorable</text>
<rect x="41.55" y="645.55" width="4.1" height="3.9" fill="#e6be18" stroke="#333" stroke-opacity="0.35" stroke-width="0.5"/>
<text x="49.00" y="649.80" font-size="6.4" fill="#222" stroke="#222" stroke-width="0.14">Intermediate-I</text>
<rect x="41.55" y="655.55" width="4.1" height="3.9" fill="#db8a14" stroke="#333" stroke-opacity="0.35" stroke-width="0.5"/>
<text x="49.00" y="659.80" font-size="6.4" fill="#222" stroke="#222" stroke-width="0.14">Intermediate-II</text>
<rect x="41.55" y="665.55" width="4.1" height="3.9" fill="#a90028" stroke="#333" stroke-opacity="0.35" stroke-width="0.5"/>
<text x="49.00" y="669.80" font-size="6.4" fill="#222" stroke="#222" stroke-width="0.14">Adverse</text>
<text x="173.00" y="524.30" font-size="7.6" font-weight="bold" text-anchor="middle" fill="#111">ELN 2017 Risk</text>
<path d="M173.20 578.10L173.20 528.70A49.40 49.40 0 0 1 208.37 543.41Z" fill="#6ca842" stroke="#6ca842" stroke-width="0.3"/>
<path d="M173.20 578.10L208.37 543.41A49.40 49.40 0 0 1 189.61 624.70Z" fill="#e6be18" stroke="#e6be18" stroke-width="0.3"/>
<path d="M173.20 578.10L189.61 624.70A49.40 49.40 0 1 1 173.20 528.70Z" fill="#a90028" stroke="#a90028" stroke-width="0.3"/>
<text x="182.50" y="557.30" font-size="6.6" text-anchor="middle" fill="#fff" fill-opacity="0.88">13%</text>
<text x="197.00" y="585.60" font-size="6.6" text-anchor="middle" fill="#fff" fill-opacity="0.88">31%</text>
<text x="147.50" y="584.30" font-size="6.6" text-anchor="middle" fill="#fff" fill-opacity="0.88">56%</text>
<rect x="150.65" y="635.55" width="4.1" height="3.9" fill="#6ca842" stroke="#333" stroke-opacity="0.35" stroke-width="0.5"/>
<text x="158.00" y="639.80" font-size="6.4" fill="#222" stroke="#222" stroke-width="0.14">Favorable</text>
<rect x="150.65" y="645.45" width="4.1" height="3.9" fill="#e6be18" stroke="#333" stroke-opacity="0.35" stroke-width="0.5"/>
<text x="158.00" y="649.70" font-size="6.4" fill="#222" stroke="#222" stroke-width="0.14">Intermediate</text>
<rect x="150.65" y="655.35" width="4.1" height="3.9" fill="#a90028" stroke="#333" stroke-opacity="0.35" stroke-width="0.5"/>
<text x="158.00" y="659.60" font-size="6.4" fill="#222" stroke="#222" stroke-width="0.14">Adverse</text>
<text x="277.60" y="524.30" font-size="7.6" font-weight="bold" text-anchor="middle" fill="#111">Grimwade Risk</text>
<path d="M277.70 578.30L277.70 528.80A49.50 49.50 0 0 1 305.24 537.17Z" fill="#6ca842" stroke="#6ca842" stroke-width="0.3"/>
<path d="M277.70 578.30L305.24 537.17A49.50 49.50 0 0 1 327.02 582.53Z" fill="#e6be18" stroke="#e6be18" stroke-width="0.3"/>
<path d="M277.70 578.30L327.02 582.53A49.50 49.50 0 1 1 277.70 528.80Z" fill="#a90028" stroke="#a90028" stroke-width="0.3"/>
<text x="284.50" y="556.80" font-size="6.6" text-anchor="middle" fill="#fff" fill-opacity="0.88">10%</text>
<text x="300.00" y="570.10" font-size="6.6" text-anchor="middle" fill="#fff" fill-opacity="0.88">17%</text>
<text x="259.50" y="597.30" font-size="6.6" text-anchor="middle" fill="#fff" fill-opacity="0.88">73%</text>
<rect x="255.95" y="635.55" width="4.1" height="3.9" fill="#6ca842" stroke="#333" stroke-opacity="0.35" stroke-width="0.5"/>
<text x="263.00" y="639.80" font-size="6.4" fill="#222" stroke="#222" stroke-width="0.14">Favorable</text>
<rect x="255.95" y="645.45" width="4.1" height="3.9" fill="#e6be18" stroke="#333" stroke-opacity="0.35" stroke-width="0.5"/>
<text x="263.00" y="649.70" font-size="6.4" fill="#222" stroke="#222" stroke-width="0.14">Intermediate</text>
<rect x="255.95" y="655.35" width="4.1" height="3.9" fill="#a90028" stroke="#333" stroke-opacity="0.35" stroke-width="0.5"/>
<text x="263.00" y="659.60" font-size="6.4" fill="#222" stroke="#222" stroke-width="0.14">Adverse</text>
<text x="437.00" y="524.30" font-size="7.6" font-weight="bold" text-anchor="middle" fill="#111">Papaemmanuil Class</text>
<path d="M436.80 577.70L438.54 527.83A49.90 49.90 0 0 1 456.54 531.87Z" fill="#c80a78" stroke="#c80a78" stroke-width="0.3"/>
<path d="M436.80 577.70L456.54 531.87A49.90 49.90 0 0 1 438.89 627.56Z" fill="#a90028" stroke="#a90028" stroke-width="0.3"/>
<path d="M436.80 577.70L438.89 627.56A49.90 49.90 0 0 1 388.06 566.98Z" fill="#db8a14" stroke="#db8a14" stroke-width="0.3"/>
<path d="M436.80 577.70L388.06 566.98A49.90 49.90 0 0 1 390.28 559.65Z" fill="#e6be18" stroke="#e6be18" stroke-width="0.3"/>
<path d="M436.80 577.70L390.28 559.65A49.90 49.90 0 0 1 391.54 556.69Z" fill="#6ca842" stroke="#6ca842" stroke-width="0.3"/>
<path d="M436.80 577.70L391.54 556.69A49.90 49.90 0 0 1 425.41 529.12Z" fill="#69a5de" stroke="#69a5de" stroke-width="0.3"/>
<path d="M436.80 577.70L425.41 529.12A49.90 49.90 0 0 1 430.81 528.16Z" fill="#2a3b6a" stroke="#2a3b6a" stroke-width="0.3"/>
<path d="M436.80 577.70L430.81 528.16A49.90 49.90 0 0 1 438.54 527.83Z" fill="#4a1e50" stroke="#4a1e50" stroke-width="0.3"/>
<text x="435.50" y="536.00" font-size="6.0" text-anchor="middle" fill="#fff" fill-opacity="0.88">3%</text>
<text x="444.90" y="544.00" font-size="6.0" text-anchor="middle" fill="#fff" fill-opacity="0.88">6%</text>
<text x="428.70" y="543.60" font-size="6.0" text-anchor="middle" fill="#fff" fill-opacity="0.88">1%</text>
<text x="416.60" y="550.80" font-size="6.2" text-anchor="middle" fill="#fff" fill-opacity="0.88">14%</text>
<text x="404.50" y="562.50" font-size="6.0" text-anchor="middle" fill="#fff" fill-opacity="0.88">1%</text>
<text x="401.20" y="567.80" font-size="6.0" text-anchor="middle" fill="#fff" fill-opacity="0.88">3%</text>
<text x="461.00" y="584.40" font-size="6.4" text-anchor="middle" fill="#fff" fill-opacity="0.88">43%</text>
<text x="418.60" y="594.80" font-size="6.4" text-anchor="middle" fill="#fff" fill-opacity="0.88">29%</text>
<rect x="378.95" y="635.35" width="4.1" height="3.9" fill="#c80a78" stroke="#333" stroke-opacity="0.35" stroke-width="0.5"/>
<text x="385.40" y="639.60" font-size="6.4" fill="#222" stroke="#222" stroke-width="0.14">IDHR172</text>
<rect x="378.95" y="645.50" width="4.1" height="3.9" fill="#db8a14" stroke="#333" stroke-opacity="0.35" stroke-width="0.5"/>
<text x="385.40" y="649.75" font-size="6.4" fill="#222" stroke="#222" stroke-width="0.14">TP53/Aneuploidy</text>
<rect x="378.95" y="655.65" width="4.1" height="3.9" fill="#6ca842" stroke="#333" stroke-opacity="0.35" stroke-width="0.5"/>
<text x="385.40" y="659.90" font-size="6.4" fill="#222" stroke="#222" stroke-width="0.14">CEBPA</text>
<rect x="378.95" y="665.80" width="4.1" height="3.9" fill="#2a3b6a" stroke="#333" stroke-opacity="0.35" stroke-width="0.5"/>
<text x="385.40" y="670.05" font-size="6.4" fill="#222" stroke="#222" stroke-width="0.14">inv(3)</text>
<rect x="438.05" y="635.35" width="4.1" height="3.9" fill="#a90028" stroke="#333" stroke-opacity="0.35" stroke-width="0.5"/>
<text x="445.10" y="639.60" font-size="6.4" fill="#222" stroke="#222" stroke-width="0.14">Splice/Chromatin</text>
<rect x="438.05" y="645.50" width="4.1" height="3.9" fill="#e6be18" stroke="#333" stroke-opacity="0.35" stroke-width="0.5"/>
<text x="445.10" y="649.75" font-size="6.4" fill="#222" stroke="#222" stroke-width="0.14">Other</text>
<rect x="438.05" y="655.65" width="4.1" height="3.9" fill="#69a5de" stroke="#333" stroke-opacity="0.35" stroke-width="0.5"/>
<text x="445.10" y="659.90" font-size="6.4" fill="#222" stroke="#222" stroke-width="0.14">NPM1</text>
<rect x="438.05" y="665.80" width="4.1" height="3.9" fill="#4a1e50" stroke="#333" stroke-opacity="0.35" stroke-width="0.5"/>
<text x="445.10" y="670.05" font-size="6.4" fill="#222" stroke="#222" stroke-width="0.14">MLL</text>
</svg></body></html>
